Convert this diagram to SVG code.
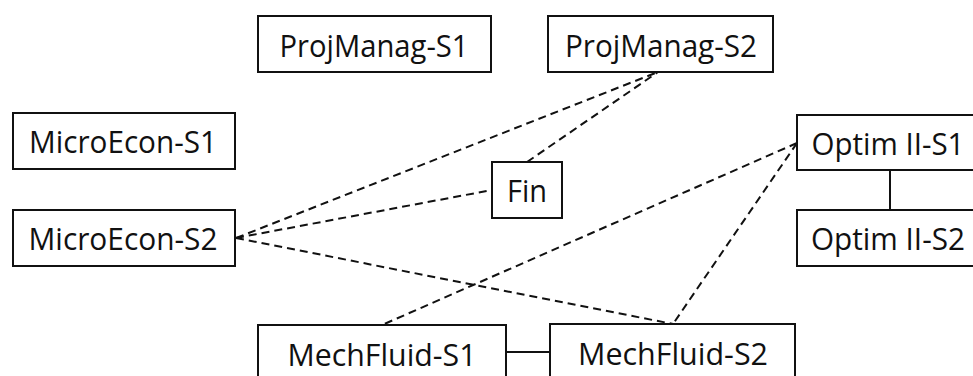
<svg xmlns="http://www.w3.org/2000/svg" width="973" height="376" viewBox="0 0 973 376">
  <style>
    .box rect { fill: #ffffff; stroke: #111111; stroke-width: 2; }
    .box text { font-family: "Open Sans", "Noto Sans", sans-serif; font-size: 31px; fill: #111111; text-anchor: middle; }
    .dash { stroke: #111111; stroke-width: 2; stroke-dasharray: 8 5; fill: none; }
    .solid { stroke: #111111; stroke-width: 2; fill: none; }
  </style>
  <rect width="973" height="376" fill="#ffffff"/>

  <g id="connectors">
    <line class="dash" x1="236" y1="238" x2="658" y2="72"/>
    <line class="dash" x1="527" y1="162" x2="658" y2="72"/>
    <line class="dash" x1="236" y1="238" x2="492" y2="190"/>
    <line class="dash" x1="236" y1="238" x2="673" y2="324"/>
    <line class="dash" x1="797" y1="143" x2="382" y2="325"/>
    <line class="dash" x1="797" y1="143" x2="673" y2="324"/>
    <line class="solid" x1="890" y1="170" x2="890" y2="210"/>
    <line class="solid" x1="506" y1="352" x2="550" y2="352"/>
  </g>

  <g id="projmanag-s1" class="box">
    <rect x="258" y="16" width="233" height="56"/>
    <text x="374" y="57" textLength="189" lengthAdjust="spacingAndGlyphs">ProjManag-S1</text>
  </g>
  <g id="projmanag-s2" class="box">
    <rect x="548" y="16" width="225" height="56"/>
    <text x="661" y="57" textLength="192" lengthAdjust="spacingAndGlyphs">ProjManag-S2</text>
  </g>
  <g id="microecon-s1" class="box">
    <rect x="13" y="113" width="222" height="56"/>
    <text x="123" y="153" textLength="188" lengthAdjust="spacingAndGlyphs">MicroEcon-S1</text>
  </g>
  <g id="microecon-s2" class="box">
    <rect x="13" y="210" width="222" height="56"/>
    <text x="123" y="250" textLength="189" lengthAdjust="spacingAndGlyphs">MicroEcon-S2</text>
  </g>
  <g id="fin" class="box">
    <rect x="492" y="162" width="70" height="56"/>
    <text x="527" y="202" textLength="40" lengthAdjust="spacingAndGlyphs">Fin</text>
  </g>
  <g id="optim-ii-s1" class="box">
    <rect x="797" y="115" width="186" height="55"/>
    <text x="888" y="155" textLength="153" lengthAdjust="spacingAndGlyphs">Optim II-S1</text>
  </g>
  <g id="optim-ii-s2" class="box">
    <rect x="797" y="210" width="186" height="56"/>
    <text x="888" y="250" textLength="154" lengthAdjust="spacingAndGlyphs">Optim II-S2</text>
  </g>
  <g id="mechfluid-s1" class="box">
    <rect x="258" y="325" width="248" height="56"/>
    <text x="382" y="366" textLength="189" lengthAdjust="spacingAndGlyphs">MechFluid-S1</text>
  </g>
  <g id="mechfluid-s2" class="box">
    <rect x="550" y="324" width="245" height="56"/>
    <text x="673" y="365" textLength="190" lengthAdjust="spacingAndGlyphs">MechFluid-S2</text>
  </g>
</svg>
